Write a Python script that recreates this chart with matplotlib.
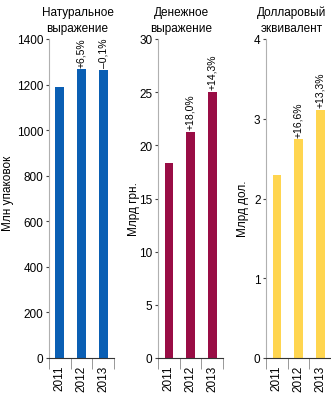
import matplotlib.pyplot as plt

years = ["2011", "2012", "2013"]

units = [1189, 1267, 1266]
units_pct = ["", "+6,5%", "\u20130,1%"]

uah = [18.3, 21.3, 25.0]
uah_pct = ["", "+18,0%", "+14,3%"]

usd = [2.29, 2.74, 3.11]
usd_pct = ["", "+16,6%", "+13,3%"]

plt.rcParams['font.family'] = ['Liberation Sans', 'DejaVu Sans']

fig = plt.figure(figsize=(3.31, 4.02), dpi=100)

# data, labels, colour, title + its x, ylabel + its coords, scale, left edge (px)
panels = [
    (units, units_pct, "#0a5fb4", "Натуральное\nвыражение", 0.44,
     "Млн упаковок", (-0.54, 0.52), 1400, 200, 49),
    (uah, uah_pct, "#990d45", "Денежное\nвыражение", 0.36,
     "Млрд грн.", (-0.28, 0.47), 30, 5, 158),
    (usd, usd_pct, "#ffd54f", "Долларовый\nэквивалент", 0.39,
     "Млрд дол.", (-0.26, 0.47), 4, 1, 266),
]

bottom = (402 - 359) / 402
height = (359 - 40) / 402

for vals, pct, color, title, tx, ylabel, lc, ymax, step, left_px in panels:
    ax = fig.add_axes([left_px / 331, bottom, 65 / 331, height])
    x = range(len(years))
    ax.bar(x, vals, width=0.4, color=color)
    ax.set_xlim(-0.5, 2.5)
    ax.set_ylim(0, ymax)
    ax.set_yticks(range(0, ymax + 1, step))
    ax.tick_params(axis='y', labelsize=8.5, length=2, direction='out', pad=2,
                   color="#444444")
    # year labels rotated, with separator ticks between categories
    ax.set_xticks([0, 1, 2])
    ax.set_xticklabels(years, rotation=90, fontsize=8.5)
    ax.tick_params(axis='x', length=0, pad=5)
    ax.set_xticks([-0.5, 0.5, 1.5, 2.5], minor=True)
    ax.tick_params(axis='x', which='minor', length=8, color="#888888")
    for s in ['top', 'right']:
        ax.spines[s].set_visible(False)
    ax.spines['left'].set_color("#b0b0b0")
    ax.spines['bottom'].set_color("#333333")
    ax.set_ylabel(ylabel, fontsize=8.5)
    ax.yaxis.set_label_coords(*lc)
    ax.set_title(title, fontsize=8.5, pad=6, linespacing=1.4, x=tx)
    for i, (v, p) in enumerate(zip(vals, pct)):
        if p:
            ax.annotate(p, (i, v), xytext=(0, 2), textcoords='offset points',
                        rotation=90, ha='center', va='bottom', fontsize=7.5)

fig.savefig("out.png", dpi=100)
